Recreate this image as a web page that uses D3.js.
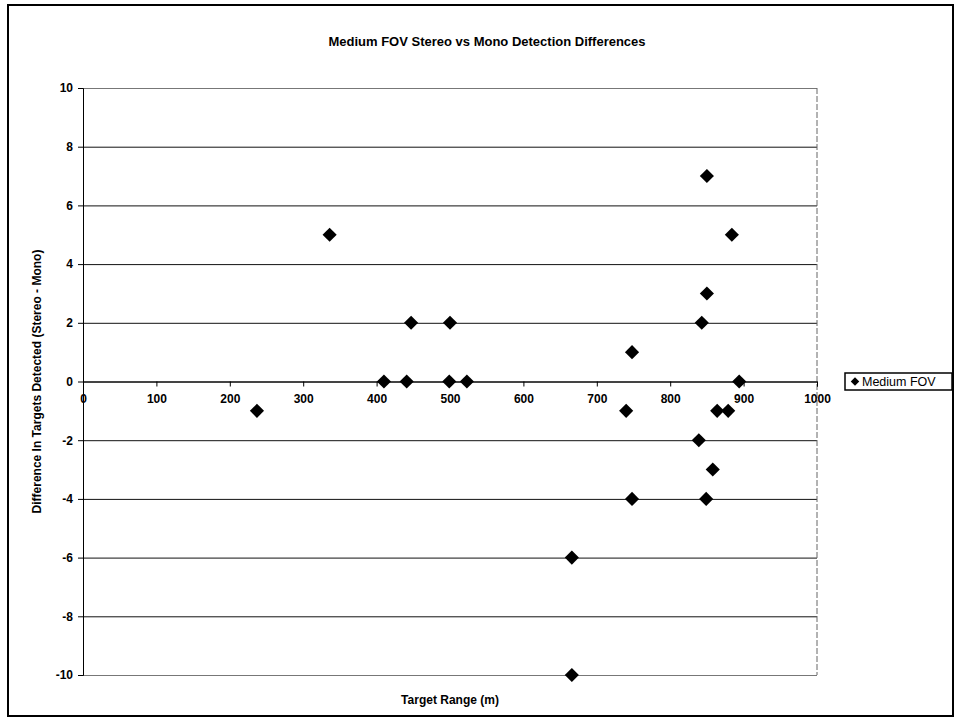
<!DOCTYPE html>
<html>
<head>
    <meta charset="utf-8">
    <title>Medium FOV Stereo vs Mono Detection Differences</title>
    <script src="https://cdn.jsdelivr.net/npm/d3@7"></script>
    <style>
        body {
            margin: 0;
            background-color: white;
            font-family: "Liberation Sans", Arial, sans-serif;
        }
        .tick text {
            font-weight: bold;
            font-size: 12px;
            fill: black;
        }
    </style>
</head>
<body>
    <div id="chart"></div>

    <script>
        // Target range (m) and stereo-minus-mono difference for each point
        const ranges = [237, 336, 410, 441, 447, 500, 499, 523, 666, 666, 740, 748, 748, 839, 843, 849, 850, 850, 858, 864, 879, 884, 894];
        const diffs  = [-1,   5,   0,   0,   2,   2,   0,   0,  -6, -10,  -1,   1,  -4,  -2,   2,  -4,   7,   3,  -3,  -1,  -1,   5,   0];
        const xTicks = [0, 100, 200, 300, 400, 500, 600, 700, 800, 900, 1000];
        const yTicks = [-10, -8, -6, -4, -2, 0, 2, 4, 6, 8, 10];
        const seriesName = "Medium FOV";

        const data = ranges.map((r, i) => ({ range: r, diff: diffs[i] }));

        const W = 955, H = 727;
        const plot = { left: 83, right: 817, top: 88, bottom: 675 };

        const svg = d3.select("#chart")
            .append("svg")
            .attr("width", W)
            .attr("height", H);

        // outer chart border
        svg.append("rect")
            .attr("x", 8).attr("y", 5)
            .attr("width", 945).attr("height", 711)
            .attr("fill", "white")
            .attr("stroke", "black")
            .attr("stroke-width", 2);

        const x = d3.scaleLinear().domain([0, 1000]).range([plot.left, plot.right]);
        const y = d3.scaleLinear().domain([-10, 10]).range([plot.bottom, plot.top]);

        // plain hyphen minus, no thousands separator
        const fmt = d => String(d);

        // horizontal grid lines
        svg.append("g")
            .attr("transform", `translate(${plot.left},0)`)
            .call(d3.axisLeft(y).tickValues(yTicks).tickSize(-(plot.right - plot.left)).tickFormat(""))
            .call(g => g.select(".domain").remove())
            .call(g => g.selectAll(".tick line")
                .attr("stroke", d => (d === 10 || d === -10) ? "#777" : "#111")
                .attr("stroke-width", 1));

        // right edge of plot area
        svg.append("line")
            .attr("x1", plot.right).attr("x2", plot.right)
            .attr("y1", plot.top).attr("y2", plot.bottom)
            .attr("stroke", "#666")
            .attr("stroke-dasharray", "6,2");

        // Y axis
        svg.append("g")
            .attr("transform", `translate(${plot.left},0)`)
            .call(d3.axisLeft(y).tickValues(yTicks).tickSize(5).tickPadding(5).tickFormat(fmt))
            .call(g => g.selectAll("path, line").attr("stroke", "black"));

        // X axis sits on the zero line
        svg.append("g")
            .attr("transform", `translate(0,${y(0)})`)
            .call(d3.axisBottom(x).tickValues(xTicks).tickSize(5).tickPadding(8).tickFormat(fmt))
            .call(g => g.selectAll("path, line").attr("stroke", "black"));

        // points
        const diamond = d3.symbol().type(d3.symbolSquare).size(100);
        svg.append("g")
            .selectAll("path")
            .data(data)
            .enter()
            .append("path")
            .attr("d", diamond)
            .attr("transform", d => `translate(${x(d.range)},${y(d.diff)}) rotate(45)`)
            .attr("fill", "black");

        // title
        svg.append("text")
            .attr("x", 487)
            .attr("y", 46)
            .attr("text-anchor", "middle")
            .style("font-size", "13px")
            .style("font-weight", "bold")
            .text("Medium FOV Stereo vs Mono Detection Differences");

        // axis titles
        svg.append("text")
            .attr("x", 450)
            .attr("y", 704)
            .attr("text-anchor", "middle")
            .style("font-size", "12px")
            .style("font-weight", "bold")
            .text("Target Range (m)");

        svg.append("text")
            .attr("transform", `translate(41,${y(0)}) rotate(-90)`)
            .attr("text-anchor", "middle")
            .style("font-size", "12px")
            .style("font-weight", "bold")
            .text("Difference In Targets Detected (Stereo - Mono)");

        // legend
        const legend = svg.append("g").attr("transform", "translate(845,373)");
        legend.append("rect")
            .attr("width", 107).attr("height", 17)
            .attr("fill", "white")
            .attr("stroke", "black")
            .attr("stroke-width", 1.5);
        legend.append("path")
            .attr("d", d3.symbol().type(d3.symbolSquare).size(36))
            .attr("transform", "translate(10,8.5) rotate(45)")
            .attr("fill", "black");
        legend.append("text")
            .attr("x", 17)
            .attr("y", 13)
            .style("font-size", "12.5px")
            .text(seriesName);
    </script>
</body>
</html>
